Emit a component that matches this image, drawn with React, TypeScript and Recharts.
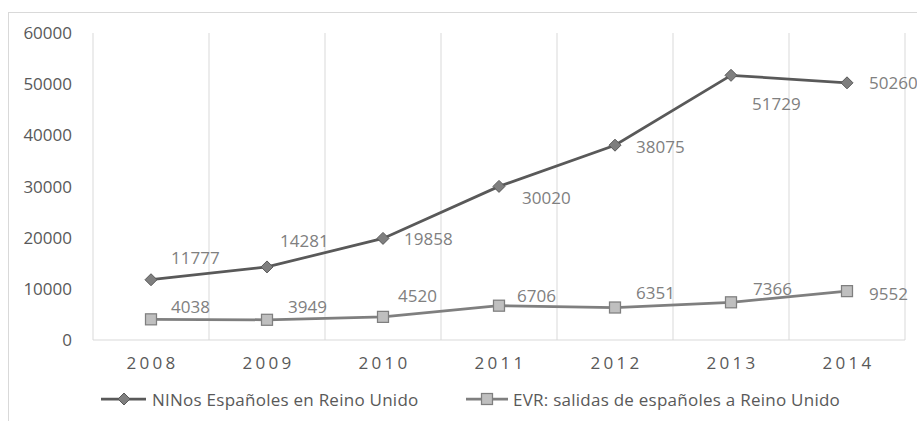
import React from 'react';
import { LineChart, Line, XAxis, YAxis, CartesianGrid, LabelList } from 'recharts';

const years = ['2008', '2009', '2010', '2011', '2012', '2013', '2014'];
const ninos = [11777, 14281, 19858, 30020, 38075, 51729, 50260];
const evr = [4038, 3949, 4520, 6706, 6351, 7366, 9552];
const yTicks = [0, 10000, 20000, 30000, 40000, 50000, 60000];
const ninosName = 'NINos Españoles en Reino Unido';
const evrName = 'EVR: salidas de españoles a Reino Unido';

const data = years.map((year, i) => ({ year, ninos: ninos[i], evr: evr[i] }));

// manual label placement, offset from marker centre: [to left edge, to middle]
const ninosLabelOffset = [[20, -22], [13, -26], [21, 0], [23, 11], [21, 1], [21, 28], [22, 0]];
const evrLabelOffset = [[20, -13], [21, -13], [15, -21], [18, -10], [21, -15], [22, -14], [22, 2]];

const FONT = "'Open Sans', sans-serif";
const AXIS_TEXT = '#595959';
const LABEL_TEXT = '#808080';
const GRID = '#d9d9d9';
const COLOR_A = '#595959';
const COLOR_B = '#7f7f7f';

const Diamond = ({ cx, cy }: { cx: number; cy: number }) => (
  <polygon
    points={`${cx},${cy - 6} ${cx + 6},${cy} ${cx},${cy + 6} ${cx - 6},${cy}`}
    fill="#7f7f7f"
    stroke={COLOR_A}
    strokeWidth={1}
  />
);

const Square = ({ cx, cy }: { cx: number; cy: number }) => (
  <rect x={cx - 5.5} y={cy - 5.5} width={11} height={11} fill="#bfbfbf" stroke={COLOR_B} strokeWidth={1.25} />
);

const makeLabel = (offsets: number[][]) => (props: any) => {
  const { value, index } = props;
  const x = props.x ?? props.viewBox?.x;
  const y = props.y ?? props.viewBox?.y;
  const [dx, dy] = offsets[index] || [20, 0];
  return (
    <text x={x + dx} y={y + dy} dominantBaseline="central" fill={LABEL_TEXT} fontSize={17} fontFamily={FONT}>
      {value}
    </text>
  );
};

const YearTick = (props: any) => {
  const { x, y, payload } = props;
  return (
    <text
      x={x + 1.6}
      y={y + 20}
      textAnchor="middle"
      dominantBaseline="central"
      letterSpacing={3.3}
      fill={AXIS_TEXT}
      fontSize={17}
      fontFamily={FONT}
    >
      {payload.value}
    </text>
  );
};

export default function App() {
  return (
    <div style={{ position: 'fixed', left: 0, top: 0, width: 917, height: 421, overflow: 'hidden', background: '#fff' }}>
      <div
        style={{
          position: 'absolute',
          left: 8,
          top: 12,
          width: 920,
          height: 430,
          border: `1px solid ${GRID}`,
        }}
      />
      <div style={{ position: 'absolute', left: 0, top: 0 }}>
        <LineChart width={917} height={421} data={data} margin={{ top: 33, right: 12, left: 0, bottom: 41 }}>
          <CartesianGrid
            horizontal={false}
            stroke={GRID}
            strokeWidth={1}
            verticalCoordinatesGenerator={({ offset }: any) =>
              Array.from({ length: years.length + 1 }, (_, i) => offset.left + (i * offset.width) / years.length)
            }
          />
          <XAxis
            dataKey="year"
            scale="band"
            tickLine={false}
            tickSize={0}
            axisLine={{ stroke: GRID, strokeWidth: 1 }}
            height={40}
            tick={<YearTick />}
            interval={0}
          />
          <YAxis
            domain={[0, 60000]}
            ticks={yTicks}
            width={93}
            axisLine={false}
            tickLine={false}
            tickSize={0}
            tickMargin={21}
            tick={{ fill: AXIS_TEXT, fontSize: 17, fontFamily: FONT }}
            interval={0}
          />
          <Line
            dataKey="ninos"
            name={ninosName}
            stroke={COLOR_A}
            strokeWidth={2.75}
            isAnimationActive={false}
            dot={(p: any) => <Diamond key={`a-${p.index}`} cx={p.cx} cy={p.cy} />}
            activeDot={false}
          >
            <LabelList dataKey="ninos" content={makeLabel(ninosLabelOffset)} />
          </Line>
          <Line
            dataKey="evr"
            name={evrName}
            stroke={COLOR_B}
            strokeWidth={2.75}
            isAnimationActive={false}
            dot={(p: any) => <Square key={`b-${p.index}`} cx={p.cx} cy={p.cy} />}
            activeDot={false}
          >
            <LabelList dataKey="evr" content={makeLabel(evrLabelOffset)} />
          </Line>
        </LineChart>
      </div>
      <svg style={{ position: 'absolute', left: 0, top: 389 }} width={917} height={22}>
        <line x1={101} x2={146} y1={10} y2={10} stroke={COLOR_A} strokeWidth={2.75} />
        <Diamond cx={124} cy={10} />
        <text x={152} y={10} dominantBaseline="central" letterSpacing={0.25} fill={AXIS_TEXT} fontSize={17} fontFamily={FONT}>
          {ninosName}
        </text>
        <line x1={466} x2={508} y1={10} y2={10} stroke={COLOR_B} strokeWidth={2.75} />
        <Square cx={487} cy={10} />
        <text x={513} y={10} dominantBaseline="central" letterSpacing={0.25} fill={AXIS_TEXT} fontSize={17} fontFamily={FONT}>
          {evrName}
        </text>
      </svg>
    </div>
  );
}
